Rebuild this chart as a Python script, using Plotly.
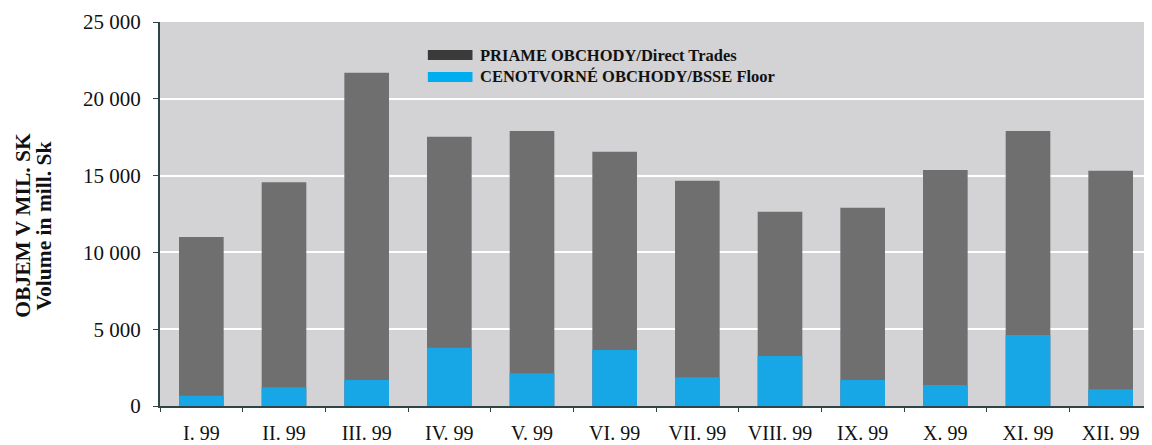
import plotly.graph_objects as go

months = ["I. 99", "II. 99", "III. 99", "IV. 99", "V. 99", "VI. 99",
          "VII. 99", "VIII. 99", "IX. 99", "X. 99", "XI. 99", "XII. 99"]
direct_trades = [11000, 14560, 21700, 17530, 17900, 16560,
                 14670, 12650, 12910, 15360, 17900, 15320]
floor_trades = [670, 1220, 1690, 3800, 2130, 3650,
                1870, 3260, 1690, 1370, 4620, 1090]

name_direct = "PRIAME OBCHODY/Direct Trades"
name_floor = "CENOTVORNÉ OBCHODY/BSSE Floor"

serif = "Liberation Serif, Times New Roman, serif"
axis_color = "#2f4545"

fig = go.Figure()

fig.add_trace(go.Bar(
    x=months,
    y=direct_trades,
    name=name_direct,
    marker=dict(color="#6f6f6f", line=dict(width=0)),
))

fig.add_trace(go.Bar(
    x=months,
    y=floor_trades,
    name=name_floor,
    marker=dict(color="#17a6e6", line=dict(width=0)),
))

# legend drawn by hand so the swatches are wide like the original
legend_items = [(name_direct, "#3a3a3a", 0.914), (name_floor, "#00aeef", 0.857)]
for label, color, ypos in legend_items:
    fig.add_shape(type="rect", xref="paper", yref="paper",
                  x0=0.270, x1=0.315, y0=ypos - 0.013, y1=ypos + 0.013,
                  fillcolor=color, line=dict(width=0))
    fig.add_annotation(text="<b>" + label + "</b>", xref="paper", yref="paper",
                       x=0.321, y=ypos, xanchor="left", yanchor="middle",
                       showarrow=False, font=dict(family=serif, size=16.5, color="#111"))

# y axis title as two lines
fig.add_annotation(text="<b>OBJEM V MIL. SK</b>", xref="paper", yref="paper",
                   x=-0.139, y=0.47, xanchor="center", yanchor="middle",
                   textangle=-90, showarrow=False,
                   font=dict(family=serif, size=21.5, color="#111"))
fig.add_annotation(text="<b>Volume in mill. Sk</b>", xref="paper", yref="paper",
                   x=-0.117, y=0.47, xanchor="center", yanchor="middle",
                   textangle=-90, showarrow=False,
                   font=dict(family=serif, size=21.5, color="#111"))

fig.update_layout(
    width=1144,
    height=437,
    barmode="overlay",
    bargap=0.46,
    showlegend=False,
    separators=", ",
    paper_bgcolor="white",
    plot_bgcolor="#d3d2d4",
    margin=dict(l=152, r=0, t=14, b=39),
    font=dict(family=serif, size=19, color="#111"),
)

fig.update_xaxes(
    automargin=False,
    showgrid=False,
    showline=True,
    linecolor=axis_color,
    linewidth=2,
    ticks="outside",
    tickson="boundaries",
    ticklen=4,
    tickcolor=axis_color,
    ticklabelstandoff=8,
    tickfont=dict(family=serif, size=20, color="#111"),
)

fig.update_yaxes(
    automargin=False,
    range=[0, 25000],
    dtick=5000,
    tickformat=",d",
    separatethousands=True,
    showgrid=True,
    gridcolor="white",
    gridwidth=2,
    zeroline=False,
    showline=True,
    linecolor=axis_color,
    linewidth=2,
    ticks="outside",
    ticklen=5,
    tickcolor=axis_color,
    ticklabelstandoff=8,
    tickfont=dict(family=serif, size=21, color="#111"),
)

fig.write_html("out.html")
